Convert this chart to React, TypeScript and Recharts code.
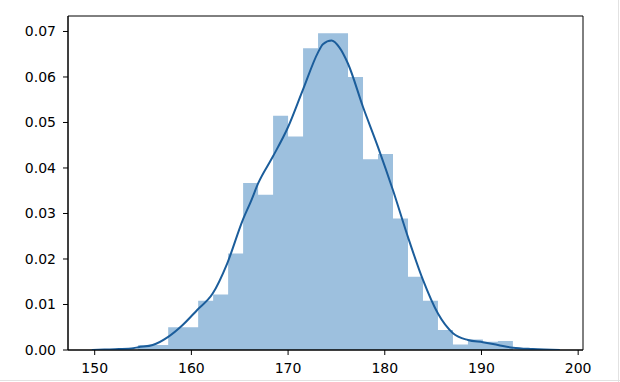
import { Area, ComposedChart, Line, ReferenceArea, XAxis, YAxis } from "recharts";

// histogram: left edge of each bin and its density
const binStarts = [
  154.5, 156.05, 157.6, 159.15, 160.7, 162.25, 163.8, 165.35, 166.9, 168.45, 170.0, 171.55, 173.1,
  174.65, 176.2, 177.75, 179.3, 180.85, 182.4, 183.95, 185.5, 187.05, 188.6, 190.15, 191.7,
];
const binEnd = 193.25;
const binDensity = [
  0.0011, 0.0011, 0.005, 0.005, 0.0108, 0.0122, 0.0212, 0.0367, 0.0341, 0.0515, 0.0469, 0.0663, 0.0696,
  0.0696, 0.06, 0.0419, 0.0431, 0.0289, 0.0161, 0.0108, 0.0044, 0.0012, 0.0023, 0.0018, 0.002,
];

// kde curve
const kdeX = [
  149.7, 151, 152.5, 154, 154.5, 156.0, 157.6, 159.1, 160.6, 162.2, 163.7, 165.3, 166.2, 166.9, 168.4,
  170.0, 171.5, 173.1, 173.6, 174.5, 175.3, 176.2, 177.75, 179.3, 180.85, 182.4, 183.95, 185.5, 187.05,
  188.6, 190.15, 191.7, 193.25, 195.3, 198.1,
];
const kdeY = [
  0, 0.0001, 0.0002, 0.0004, 0.0006, 0.0011, 0.0029, 0.0055, 0.0088, 0.0124, 0.019, 0.0285, 0.0329,
  0.0366, 0.0424, 0.049, 0.057, 0.0654, 0.0672, 0.068, 0.0665, 0.0629, 0.0534, 0.0446, 0.0351, 0.0248,
  0.0154, 0.008, 0.0037, 0.0022, 0.0017, 0.0011, 0.0005, 0.0002, 0,
];

const xTicks = [150, 160, 170, 180, 190, 200];
const yTicks = [0, 0.01, 0.02, 0.03, 0.04, 0.05, 0.06, 0.07];

const X_DOMAIN: [number, number] = [147.24, 200.5];
const Y_DOMAIN: [number, number] = [0, 0.0734];

const histData = [
  ...binStarts.map((x, i) => ({ x, d: binDensity[i] })),
  { x: binEnd, d: 0 },
];
const kdeData = kdeX.map((x, i) => ({ x, d: kdeY[i] }));

const tickStyle = { fill: "#000", fontSize: 14, fontFamily: "DejaVu Sans" };

export default function App() {
  return (
    <div style={{ position: "absolute", left: 0, top: 0, width: 620, height: 382, background: "#fff" }}>
      <ComposedChart width={620} height={382} margin={{ top: 16, right: 37, bottom: 0, left: 0 }}>
        <XAxis
          dataKey="x"
          type="number"
          domain={X_DOMAIN}
          allowDataOverflow
          ticks={xTicks}
          tick={tickStyle}
          tickSize={5}
          tickMargin={8}
          height={32}
          stroke="#000"
          tickLine={{ stroke: "#000" }}
        />
        <YAxis
          type="number"
          domain={Y_DOMAIN}
          allowDataOverflow
          ticks={yTicks}
          tickFormatter={(v: number) => v.toFixed(2)}
          tick={tickStyle}
          tickSize={5}
          tickMargin={7}
          width={68}
          stroke="#000"
          tickLine={{ stroke: "#000" }}
        />
        <Area
          data={histData}
          dataKey="d"
          type="stepAfter"
          fill="#9dc0de"
          fillOpacity={1}
          stroke="none"
          isAnimationActive={false}
          dot={false}
          activeDot={false}
        />
        <Line
          data={kdeData}
          dataKey="d"
          type="monotone"
          stroke="#1b5d9b"
          strokeWidth={2}
          dot={false}
          activeDot={false}
          isAnimationActive={false}
        />
        <ReferenceArea
          x1={X_DOMAIN[0]}
          x2={X_DOMAIN[1]}
          y1={Y_DOMAIN[0]}
          y2={Y_DOMAIN[1]}
          fill="none"
          stroke="#000"
          strokeWidth={1}
          ifOverflow="visible"
        />
      </ComposedChart>
      <div style={{ position: "absolute", left: 618, top: 0, width: 1, height: 382, background: "#e2e2e2" }} />
      <div style={{ position: "absolute", left: 0, top: 380, width: 620, height: 1, background: "#e2e2e2" }} />
    </div>
  );
}
